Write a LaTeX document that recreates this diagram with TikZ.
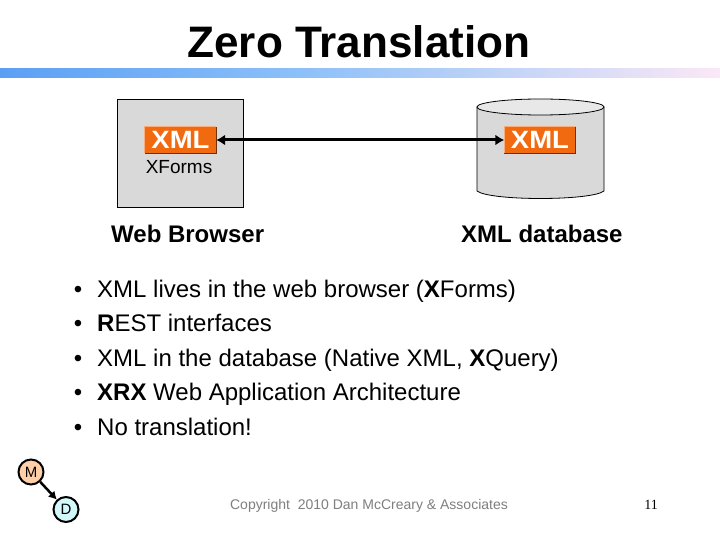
\documentclass[tikz,border=0pt]{standalone}
\usepackage{fontspec}
\usepackage{graphicx}
\setmainfont{Liberation Sans}
\newfontfamily\serifnum{Liberation Serif}
\usetikzlibrary{arrows.meta,calc}
\definecolor{barA}{HTML}{5B9FF5}
\definecolor{barB}{HTML}{8CC0F8}
\definecolor{barC}{HTML}{FBE8F6}
\definecolor{panel}{HTML}{D9D9D9}
\definecolor{badge}{HTML}{F26A0F}
\definecolor{mfill}{HTML}{FFD0A8}
\definecolor{dfill}{HTML}{D2F8FA}
\definecolor{copytext}{HTML}{7F7F7F}
\tikzset{
  xmlbadge/.style={fill=badge,minimum width=71pt,minimum height=26pt,inner sep=0pt,text=white,font=\fontsize{25}{25}\selectfont\bfseries},
  caption/.style={anchor=base west,inner sep=0pt,font=\fontsize{24}{24}\selectfont\bfseries},
  bulletline/.style={anchor=base west,inner sep=0pt,font=\fontsize{24}{24}\selectfont},
  dotmark/.style={anchor=base,inner sep=0pt,font=\fontsize{24}{24}\selectfont},
  erdot/.style={circle,draw=black,line width=2pt,minimum size=25pt,inner sep=0pt,font=\fontsize{15}{15}\selectfont},
  syncarrow/.style={line width=3pt,{Latex[length=9pt,width=11pt]}-{Latex[length=9pt,width=11pt]}},
  bevellight/.style={draw=badge!55!white,line width=1pt},
  beveldark/.style={draw=badge!45!black,line width=1pt}
}
\begin{document}
\begin{tikzpicture}[x=1pt,y=-1pt]
\useasboundingbox (0,0) rectangle (720,540);
\fill[white] (0,0) rectangle (720,540);
% title and band
\node[anchor=base,inner sep=0pt,font=\fontsize{44.1}{44}\selectfont\bfseries] (title) at (359,58) {Zero Translation};
\shade[left color=barA,right color=barB] (0,69) rectangle (300,78);
\shade[left color=barB,right color=barC] (300,69) rectangle (720,78);
% browser
\node[draw=black,fill=panel,line width=0.8pt,minimum width=126pt,minimum height=108pt,inner sep=0pt] (browser) at (180,153) {};
\node[xmlbadge] (xmlb) at (180.5,140) {\scalebox{1.1}[1]{XML}};
\draw[bevellight] (xmlb.south west) -- (xmlb.north west) -- (xmlb.north east);
\draw[beveldark] (xmlb.north east) -- (xmlb.south east) -- (xmlb.south west);
\node[anchor=base,inner sep=0pt,font=\fontsize{19}{19}\selectfont] (xforms) at (179,174) {XForms};
% database
\draw[fill=panel,line width=0.8pt] (477,107) -- (477,191) .. controls (490,201) and (591,201) .. (604,191) -- (604,107) -- cycle;
\draw[fill=panel!60!white,line width=0.8pt] (540.5,107) ellipse[x radius=63.5,y radius=8];
\node[xmlbadge] (xmld) at (540,140) {\scalebox{1.1}[1]{XML}};
\draw[bevellight] (xmld.south west) -- (xmld.north west) -- (xmld.north east);
\draw[beveldark] (xmld.north east) -- (xmld.south east) -- (xmld.south west);
\draw[syncarrow] (xmlb.east) -- (xmld.west);
% captions
\node[caption] (cap1) at (111,242) {Web Browser};
\node[caption] (cap2) at (461,242) {XML database};
% bullets
\foreach \n/\y in {1/297,2/331,3/366,4/400,5/435}{\node[dotmark] (dot\n) at (78,\y) {•};}
\node[bulletline] (b1) at (97,297) {XML lives in the web browser (\textbf{X}Forms)};
\node[bulletline] (b2) at (97,331) {\textbf{R}EST interfaces};
\node[bulletline] (b3) at (97,366) {XML in the database (Native XML, \textbf{X}Query)};
\node[bulletline] (b4) at (97,400) {\textbf{XRX} Web Application Architecture};
\node[bulletline] (b5) at (97,435) {No translation!};
% M-D mark
\node[erdot,fill=mfill] (m) at (31,472) {M};
\node[erdot,fill=dfill] (d) at (66,509.5) {D};
\draw[line width=2.5pt,-{Latex[length=8pt,width=9pt]}] (m) -- (d);
% footer
\node[anchor=base,inner sep=0pt,text=copytext,font=\fontsize{14}{14}\selectfont] (copy) at (369,509) {Copyright\ \ 2010 Dan McCreary \& Associates};
\node[anchor=base,inner sep=0pt,font=\fontsize{14}{14}\selectfont\serifnum] (page) at (651,509) {11};
\end{tikzpicture}
\end{document}
